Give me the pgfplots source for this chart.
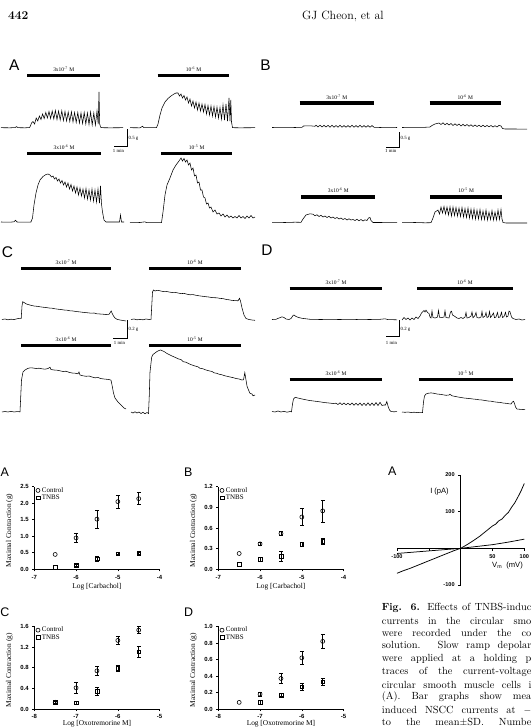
\documentclass[border=0pt]{standalone}
\usepackage{fontspec}
\usepackage{pgfplots}
\pgfplotsset{compat=1.18}
\setsansfont{Liberation Sans}
\newfontfamily\timesf{Liberation Serif}

\newcommand{\drugfont}{\timesf\fontsize{5.5}{6}\selectfont}
\newcommand{\scalefont}{\timesf\fontsize{4.8}{5}\selectfont}
\newcommand{\bigletter}{\sffamily\fontsize{15.5}{16}\selectfont}
\newcommand{\smallletter}{\sffamily\fontsize{12.5}{13}\selectfont}
\newcommand{\ticklab}{\sffamily\bfseries\fontsize{6}{6}\selectfont}
\newcommand{\labfont}{\timesf\fontsize{7.4}{8}\selectfont}
\newcommand{\legfont}{\timesf\fontsize{7}{8}\selectfont}
\newcommand{\capfont}{\fontsize{10.4}{13}\selectfont}

\pgfplotsset{
  trace/.style={black, line width=0.55bp, mark=none},
  drug/.style={black, line width=3.6bp, mark=none, line cap=butt},
  scalebar/.style={black, line width=0.5bp, mark=none},
  dose/.style={
    scale only axis, width=125.3bp, height=82.5bp,
    axis lines=left, axis line style={-, line width=0.6bp},
    enlargelimits=false, clip=false,
    tick align=outside, major tick length=2.2bp,
    every tick/.style={black, line width=0.6bp},
    tick label style={font=\ticklab, black},
    /pgf/number format/assume math mode=true,
    yticklabel style={/pgf/number format/.cd, fixed, fixed zerofill, precision=1},
    xtick distance=1,
    xlabel style={font=\labfont, at={(axis description cs:0.5,-0.215)}, anchor=center},
    ylabel style={font=\labfont, at={(axis description cs:-0.2,0.47)}, anchor=center},
    legend style={draw=none, fill=none, at={(axis description cs:0.012,1.005)},
      anchor=north west, font=\legfont, inner sep=0pt,
      nodes={inner sep=0.7bp}, row sep=-0.3bp, column sep=1.2bp},
    legend cell align=left,
  },
  ctrl/.style={black, only marks, mark=o, mark size=2bp,
    mark options={line width=0.6bp, draw=black, fill=white, solid},
    legend image code/.code={\draw plot coordinates {(0bp,0bp)};}},
  tnbs/.style={black, only marks, mark=square, mark size=1.9bp,
    mark options={line width=0.6bp, draw=black, fill=white, solid},
    legend image code/.code={\draw plot coordinates {(0bp,0bp)};}},
  % mean +- SEM
  sem/.style={error bars/.cd, y dir=both, y explicit,
    error bar style={draw=black, line width=0.6bp},
    error mark options={rotate=90, mark size=1.9bp, line width=0.6bp, draw=black},
    /pgfplots/.cd},
}

\begin{document}
\begin{tikzpicture}[x=1bp,y=1bp]

% ---------- page frame: isometric tension traces, in page units (y downwards) ----------
\begin{axis}[name=page, at={(0bp,0bp)}, anchor=south west, scale only axis,
  width=532bp, height=727bp, xmin=0, xmax=532, ymin=0, ymax=727,
  y dir=reverse, hide axis, clip=false, enlargelimits=false]

% running head
\node[anchor=west, font=\bfseries\fontsize{12}{14}\selectfont, inner sep=0pt] at (axis cs:8,16) {442};
\node[anchor=west, font=\fontsize{12}{14}\selectfont, inner sep=0pt] at (axis cs:302,16) {GJ Cheon, et al};

% panel letters
\node[font=\bigletter] at (axis cs:14.2,64.7) {A};
\node[font=\bigletter] at (axis cs:265.5,64.7) {B};
\node[font=\bigletter] at (axis cs:7.5,251.7) {C};
\node[font=\bigletter] at (axis cs:267,250) {D};
\node[font=\smallletter] at (axis cs:4.8,472.7) {A};
\node[font=\smallletter] at (axis cs:188.3,472.7) {B};
\node[font=\smallletter] at (axis cs:4.8,612.2) {C};
\node[font=\smallletter] at (axis cs:188.5,612.2) {D};
\node[font=\smallletter] at (axis cs:392.3,471.7) {A};

% drug application bars
\addplot[drug] coordinates {(27.3,75.7) (100,75.7)};
\addplot[drug] coordinates {(157.7,75.7) (229.3,75.7)};
\addplot[drug] coordinates {(27.3,153.7) (101,153.7)};
\addplot[drug] coordinates {(161,153.7) (232.3,153.7)};
\addplot[drug] coordinates {(299.7,103.3) (373.7,103.3)};
\addplot[drug] coordinates {(429.7,103.3) (501,103.3)};
\addplot[drug] coordinates {(301.3,196.7) (375.3,196.7)};
\addplot[drug] coordinates {(430.3,196.7) (502,196.7)};
\addplot[drug] coordinates {(21,268.3) (111,268.3)};
\addplot[drug] coordinates {(149,268.3) (240.7,268.3)};
\addplot[drug] coordinates {(21,345.3) (111,345.3)};
\addplot[drug] coordinates {(149,345.3) (240.7,345.3)};
\addplot[drug] coordinates {(289.7,288.3) (382,288.3)};
\addplot[drug] coordinates {(417,288.3) (512.7,288.3)};
\addplot[drug] coordinates {(289.7,379.3) (382,379.3)};
\addplot[drug] coordinates {(418.7,379.3) (512.7,379.3)};

% concentrations
\node[font=\drugfont] at (axis cs:63.7,69) {3x10\textsuperscript{-7} M};
\node[font=\drugfont] at (axis cs:193.5,69) {10\textsuperscript{-6} M};
\node[font=\drugfont] at (axis cs:64,147.5) {3x10\textsuperscript{-6} M};
\node[font=\drugfont] at (axis cs:196.7,147.5) {10\textsuperscript{-5} M};
\node[font=\drugfont] at (axis cs:336.7,97.3) {3x10\textsuperscript{-7} M};
\node[font=\drugfont] at (axis cs:465.3,97.3) {10\textsuperscript{-6} M};
\node[font=\drugfont] at (axis cs:338.3,190.7) {3x10\textsuperscript{-6} M};
\node[font=\drugfont] at (axis cs:466.2,190.7) {10\textsuperscript{-5} M};
\node[font=\drugfont] at (axis cs:66,262.3) {3x10\textsuperscript{-7} M};
\node[font=\drugfont] at (axis cs:195,262.3) {10\textsuperscript{-6} M};
\node[font=\drugfont] at (axis cs:66,339.3) {3x10\textsuperscript{-6} M};
\node[font=\drugfont] at (axis cs:195,339.3) {10\textsuperscript{-5} M};
\node[font=\drugfont] at (axis cs:336,282.3) {3x10\textsuperscript{-7} M};
\node[font=\drugfont] at (axis cs:465,282.3) {10\textsuperscript{-6} M};
\node[font=\drugfont] at (axis cs:336,373.3) {3x10\textsuperscript{-6} M};
\node[font=\drugfont] at (axis cs:465.7,373.3) {10\textsuperscript{-5} M};

% scale bars
\addplot[scalebar] coordinates {(114,146.7) (127.3,146.7) (127.3,129)};
\node[font=\scalefont, anchor=west, inner sep=0.5bp] at (axis cs:128,138) {0.5 g};
\node[font=\scalefont, inner sep=0.5bp] at (axis cs:118.5,150.5) {1 min};
\addplot[scalebar] coordinates {(386,147.3) (399.3,147.3) (399.3,132)};
\node[font=\scalefont, anchor=west, inner sep=0.5bp] at (axis cs:400,138.5) {0.5 g};
\node[font=\scalefont, inner sep=0.5bp] at (axis cs:390.7,151) {1 min};
\addplot[scalebar] coordinates {(113.3,338.3) (127.3,338.3) (127.3,320)};
\node[font=\scalefont, anchor=west, inner sep=0.5bp] at (axis cs:128,329.3) {0.2 g};
\node[font=\scalefont, inner sep=0.5bp] at (axis cs:119.5,342.7) {1 min};
\addplot[scalebar] coordinates {(386,336.7) (399.3,336.7) (399.3,320)};
\node[font=\scalefont, anchor=west, inner sep=0.5bp] at (axis cs:400,329.3) {0.2 g};
\node[font=\scalefont, inner sep=0.5bp] at (axis cs:391.5,342.7) {1 min};

% A: carbachol
\addplot[trace] coordinates {(1,127.7) (10,127.8) (15,127.6) (16.5,126.6) (18,127.7) (25,127.8) (29.5,127.6) (30.5,125.8) (31.5,123) (33,121.5) (34.6,124) (36.2,118) (37.8,121) (39.4,116) (41,119.5) (42.6,114) (44.2,118.5) (45.8,112.5) (47.4,118) (49,111.5) (50.6,118.5) (52.2,111) (53.8,119) (55.4,110.5) (57,119.5) (58.6,111) (60.2,120) (61.8,110.8) (63.4,120.5) (65,111.5) (66.6,121) (68.2,112) (69.8,121.5) (71.4,111.8) (73,122) (74.6,112.5) (76.2,122.5) (77.8,112.5) (79.4,123) (81,113) (82.6,123.5) (84.2,112.5) (85.8,124) (87.4,113) (89,124.5) (90.6,112) (92.2,125) (93.8,113) (95.4,125) (97,111) (98.2,124) (99,92) (99.7,124) (100.5,127) (101.5,127.7) (110,127.8) (123,127.7)};
\addplot[trace] coordinates {(130,127.7) (140,127.8) (142.5,126.3) (144,127.7) (156.5,127.7) (158,124) (160,115) (162,108) (165,102) (168,98.5) (171,96) (174,94) (176,93) (178,93) (179.5,96) (181,94) (182.5,98) (184,95.5) (185.5,100) (187,97) (188.5,103) (190,99) (191.5,106) (193,101) (194.5,108) (196,102) (197.5,110) (199,103) (200.5,111) (202,104) (203.5,112) (205,104.5) (206.5,114) (208,105.5) (209.5,115) (211,106) (212.5,116) (214,106.5) (215.5,117) (217,107) (218.5,118) (220,107.5) (221.5,119) (223,105) (224.5,120) (226,104) (227.5,121) (229,98) (230,121) (230.8,100) (231.5,122) (232.5,127.7) (240,127.8) (255,127.7)};
\addplot[trace] coordinates {(1,222) (10,222.2) (14,221.8) (15.5,220.3) (17,222) (25,222.2) (31,222) (32.5,218) (34,205) (36,193) (38,185) (40,180) (43,176.5) (46,174.5) (48,174) (50,175) (51.5,177) (53,176) (54.5,179) (56,177.5) (57.5,181) (59,179) (60.5,183) (62,180.5) (63.5,185) (65,182) (66.5,187) (68,183) (69.5,189) (71,184.5) (72.5,191) (74,186) (75.5,193) (77,187) (78.5,195) (80,188) (81.5,196) (83,189) (84.5,198) (86,188.5) (87.5,199) (89,190) (90.5,200) (92,189) (93.5,201) (95,190) (96.5,202) (98,189) (99.5,203) (100.5,186) (101.5,204) (102.5,212) (104,220) (106,222) (119.5,222) (120.5,215) (121.5,222) (124,222)};
\addplot[trace] coordinates {(130,222.7) (140,222.5) (145,221.8) (146.5,222.7) (161.5,222.7) (163,212) (165,195) (167,185) (170,178) (173,170) (176,165) (179,161) (181,158) (182.5,161) (184,158.5) (185.5,162) (187,160) (188.5,165) (190,163) (191.5,170) (193,168) (194.5,176) (196,175) (197.5,183) (199,182) (200.5,190) (202,190) (203.5,197) (205,198) (206.5,204) (208,203) (209.5,208) (211,207) (213,212) (215,210) (217,214) (219,213) (221,216) (223,214) (225,217) (227,215) (229,217.5) (231,216) (233,218) (235,216.5) (237,218) (239,215.5) (241,218) (243,216.5) (245,218.5) (247,216) (249,218) (251,215.5) (253,218) (255,217)};

% B: carbachol, TNBS
\addplot[trace] coordinates {(272,127.5) (285,127.3) (295,127.5) (302,127.3) (303.5,126) (310,125.8) (315,126.3) (316,125.2) (318,127) (320,125.2) (322,127) (324,125.3) (326,127) (328,125.4) (330,127.2) (332,125.3) (334,127.2) (336,125.5) (338,127.2) (340,125.3) (342,127.3) (344,125.5) (346,127.3) (348,125.5) (350,127.3) (352,125.3) (354,127.3) (356,125.5) (358,127.3) (360,125.3) (362,127.3) (364,125.5) (366,127.3) (368,125.5) (370,127.3) (372,125.5) (374,127.3) (380,127.5) (390,127.3) (397,127.5)};
\addplot[trace] coordinates {(402,127.5) (415,127.3) (425,127.3) (430,127) (432,125.5) (435,124) (439,123) (441,124.5) (443,122.8) (445,124.8) (447,123.3) (449,125) (451,123.5) (453,125.5) (455,123.8) (457,125.5) (459,124) (461,126) (463,124.3) (465,126) (467,124.5) (469,126.2) (471,124.8) (473,126.5) (475,125) (477,126.5) (479,125.2) (481,126.7) (483,125.3) (485,126.7) (487,125.5) (489,126.8) (491,125.5) (493,127) (495,125.7) (497,127) (499,125.3) (501,126) (502.5,128.5) (505,129) (515,129) (527,129.2)};
\addplot[trace] coordinates {(272,222.3) (285,222.5) (295,222.2) (301,222.3) (303,219) (306,215) (310,213.8) (313,214.2) (315,215.8) (317,214.8) (319,216.5) (321,215.3) (323,217) (325,216) (327,217.5) (329,216.3) (331,218) (333,217) (335,218.5) (337,217.5) (339,219) (341,218) (343,219.5) (345,218.5) (347,220) (349,218.8) (351,220) (353,219.5) (355,220.5) (357,219.3) (359,220.8) (361,219.5) (363,221) (365,219.8) (367,220.5) (368.5,218) (370,217.5) (371,220.5) (373,222.5) (380,222.5) (397,222.7)};
\addplot[trace] coordinates {(402,222.7) (415,222.5) (425,222.8) (431,222.7) (433,218) (435,212) (438,210) (439.5,214) (441,207) (442.5,213) (444,206.5) (445.5,214) (447,207) (448.5,215) (450,206.8) (451.5,216) (453,207) (454.5,215.5) (456,207.5) (457.5,216) (459,208) (460.5,216.5) (462,207.5) (463.5,217) (465,208.5) (466.5,217.5) (468,208) (469.5,218) (471,209) (472.5,218.5) (474,209) (475.5,219) (477,210) (478.5,219) (480,209.5) (481.5,219.5) (483,211) (484.5,219.5) (486,210) (487.5,220) (489,212) (490.5,219.5) (492,210.5) (493.5,220) (495,212) (496.5,220) (498,210) (499.5,219.5) (501,209.5) (502,219) (503,222.5) (506,223) (527,223)};

% C: oxotremorine M
\addplot[trace] coordinates {(2,319.5) (5,319) (8,319.8) (11,319.2) (14,319.6) (17,318.8) (20,318.3) (21.2,318.5) (22,306) (22.7,301.7) (24,302.5) (26,303.8) (28,304.5) (31,305.3) (34,306) (37,306.3) (40,306.8) (43,307.2) (46,307.5) (49,308) (52,308.2) (55,308.8) (58,309.2) (61,309.5) (64,310) (67,310.2) (70,310.8) (73,311) (76,311.5) (79,311.8) (82,312.2) (85,312.5) (88,312.8) (91,313.2) (94,313) (97,313.8) (100,314) (103,314.2) (106,314.5) (109,314.3) (110.5,312) (111.2,311) (112,313) (113.5,316) (115,318) (117,319.3) (120,320) (123,320.5) (126,321)};
\addplot[trace] coordinates {(131,319.5) (134,319) (137,319.8) (140,319.4) (143,319.8) (146,319) (149,319.5) (151,319.3) (151.8,305) (152.5,292) (153.5,290) (155,291) (157,290.3) (160,290.8) (163,291.5) (166,291.3) (169,292) (172,292.5) (175,292.3) (178,293) (181,293.6) (184,293.4) (187,294.2) (190,294.8) (193,294.6) (196,295.3) (199,295.8) (202,296.2) (205,296.6) (208,296.9) (211,297.4) (214,297.7) (217,297.8) (220,298.4) (223,298.6) (226,299.4) (229,299.8) (232,300.4) (235,300.6) (238,300.8) (239.5,298.3) (240.5,301) (242,308) (244,315) (246,318.5) (249,319.5) (252,320) (255,320.3)};
\addplot[trace] coordinates {(2,412) (5,411.5) (8,412) (11,411.3) (14,412) (17,411.6) (20,411.8) (20.8,395) (21.5,380) (23,372) (25,370) (27.5,368.6) (30,367.8) (33,368) (36,368.5) (39,368.2) (42,368.8) (45,369.2) (48,368.5) (50,367.3) (51,369.5) (54,370) (57,370.2) (60,370.8) (63,371.5) (66,371.2) (69,372.3) (72,373) (75,373.2) (78,373.8) (79,372) (80,375) (83,375.8) (86,376.3) (89,376) (92,377) (95,377.8) (98,377.5) (101,378.6) (104,379) (107,379.3) (110,379.8) (111,380.2) (112,385) (113.5,393) (115,398) (118,402) (121,405) (124,408) (126,409)};
\addplot[trace] coordinates {(131,412) (133,413) (135,411.8) (137,413) (139,412) (141,413.5) (143,412.3) (145,413.8) (147,412.5) (148.5,413.5) (149.3,395) (150,372) (151.7,357) (153,354.5) (155,353) (157,351.5) (159,350.5) (160.7,350) (162,350.6) (164,351.5) (166.7,353.3) (169,354.5) (172,356) (175,357.3) (178,358.8) (181,359.6) (183.3,361.7) (186,362.2) (189,363.8) (192,365) (195,366) (198,366.8) (200,368.3) (203,368.8) (206,370) (209,370.8) (212,371.5) (214,372.8) (216.7,373.3) (219,374.2) (222,374.8) (225,375.8) (228,376.5) (231,377.2) (233.3,377.7) (236,378.5) (239,379) (242,380) (243.5,379.8) (244.8,372.7) (246,380) (247,386) (248.5,390) (250,393.3) (252,394) (253,395.8) (255,395)};

% D: oxotremorine M, TNBS
\addplot[trace] coordinates {(272,319.5) (276,319.3) (279,318) (282,316.8) (284,317.5) (286,319) (289,319.5) (291,318.5) (293,315.5) (294,315) (296,316.5) (299,317.6) (302,318.3) (306,318.8) (310,319.3) (320,319.5) (330,319.4) (340,319.5) (350,319.3) (360,319.6) (370,319.5) (380,319.3) (385,318.8) (388,319.6) (397,319.8)};
\addplot[trace] coordinates {(402,320) (404,317.5) (406,319.5) (408,318) (410,320) (412,318) (414,319.5) (416,317) (418,318.5) (420,316) (421.5,313) (423,311.5) (424,310.5) (425,312) (426,310.2) (427.5,312.5) (429,313.5) (430,317) (431,318) (432,311) (433,317.5) (435,318) (437.5,317) (438.5,310.5) (439.5,317.2) (442,317.5) (444,317) (445,310.8) (446,317.5) (449,318) (450.5,312) (451.5,311.2) (452.5,315) (455,316.5) (457,318) (459,318.5) (461,317.5) (463,318.5) (465,317) (466,312.5) (467,318) (469,317.5) (471,316) (472,312) (473,317.8) (475,315.5) (476,312.5) (477,317.5) (479,318) (481,317) (482,311.5) (483,317.5) (485,316) (486,312.5) (487,317.5) (488.5,316.8) (489.5,311.5) (490.5,317.5) (492,315.5) (493.5,313) (494.5,317.8) (496,317) (497.5,312.5) (498.5,317.5) (500,317) (501.5,312.3) (502.5,317.5) (504,316.5) (505.5,312.3) (506.5,317) (508,316) (509,311) (510,311.8) (511.5,317) (513,318.5) (516,319.5) (519,319) (522,320) (525,319.5)};
\addplot[trace] coordinates {(272,411.5) (275,412) (278,411) (281,412) (284,411.3) (287,412.2) (290,411.5) (291.5,411.8) (292.5,404) (293.5,399) (295.3,397.3) (297,397.8) (300,398.5) (303,399.2) (306,399.8) (309,400.4) (312,400.8) (315,401.2) (318,401.6) (321,402) (324,402.5) (327,402.8) (330,403.1) (333,403.5) (336,403.2) (338,404.5) (340,402.8) (342,404.6) (344,403) (346,404.8) (348,403.2) (350,405) (352,403) (354,405.2) (356,403.3) (358,405.2) (360,403) (362,405.5) (364,403.2) (366,405.5) (368,402.8) (370,405.5) (372,403) (374,405.5) (376,402.5) (378,405.6) (380,402.3) (382,405.5) (384,405) (385.5,405) (386.8,401.5) (388,406) (389.5,410) (391,411.5) (394,411.8) (397,411.6)};
\addplot[trace] coordinates {(402,412) (405,412.3) (408,412) (411,412.5) (414,412.2) (417,412.6) (420,412.3) (422.5,412.5) (423.5,402) (424.5,396) (426,394) (428,393.3) (431,392.9) (434,393.3) (437,394) (440,394.3) (443,394.8) (446,395.3) (449,395) (450,394.3) (452,395.8) (455,396.4) (458,397) (461,397.5) (464,398) (467,398.3) (470,398.6) (473,399) (476,399.3) (479,399.8) (482,400) (485,400.5) (488,401) (491,401.2) (494,401.8) (497,402.2) (500,402.4) (503,403) (506,403.3) (509,403.8) (511,404) (512,402.5) (513.5,401.2) (514.5,403.5) (515.5,407) (517,409) (520,409.3) (523,409.5) (525,409.3)};

% I-V labels
\node[font=\sffamily\fontsize{7.6}{8}\selectfont, inner sep=0pt] at (axis cs:439.5,492) {I (pA)};
\node[font=\sffamily\fontsize{7.6}{8}\selectfont, inner sep=0pt] at (axis cs:507.5,566) {V\textsubscript{m}\ \ (mV)};

% legend text of the figure
\node[anchor=west, inner sep=0pt, font=\capfont] at (axis cs:381.7,607.7) {\makebox[149.5bp][s]{\textbf{Fig. 6.} Effects of TNBS-induc}};
\node[anchor=west, inner sep=0pt, font=\capfont] at (axis cs:381.7,620.5) {\makebox[149.5bp][s]{currents in the circular smo}};
\node[anchor=west, inner sep=0pt, font=\capfont] at (axis cs:381.7,633.3) {\makebox[149.5bp][s]{were recorded under the co}};
\node[anchor=west, inner sep=0pt, font=\capfont] at (axis cs:381.7,646.1) {\makebox[149.5bp][s]{solution. Slow ramp depolar}};
\node[anchor=west, inner sep=0pt, font=\capfont] at (axis cs:381.7,658.9) {\makebox[149.5bp][s]{were applied at a holding p}};
\node[anchor=west, inner sep=0pt, font=\capfont] at (axis cs:381.7,671.7) {\makebox[149.5bp][s]{traces of the current-voltage}};
\node[anchor=west, inner sep=0pt, font=\capfont] at (axis cs:381.7,684.5) {\makebox[149.5bp][s]{circular smooth muscle cells i}};
\node[anchor=west, inner sep=0pt, font=\capfont] at (axis cs:381.7,697.3) {\makebox[149.5bp][s]{(A). Bar graphs show mea}};
\node[anchor=west, inner sep=0pt, font=\capfont] at (axis cs:381.7,710.1) {\makebox[149.5bp][s]{induced NSCC currents at $-$}};
\node[anchor=west, inner sep=0pt, font=\capfont] at (axis cs:381.7,721.8) {\makebox[149.5bp][s]{to the mean$\pm$SD. Numbe}};
\end{axis}

% ---------- A: carbachol, control vs TNBS ----------
\begin{axis}[dose, at={(34.3bp,157.7bp)}, anchor=south west,
  xmin=-7, xmax=-4, ymin=0, ymax=2.5, ytick={0,0.5,1,1.5,2,2.5},
  xlabel={Log [Carbachol]}, ylabel={Maximal Contraction (g)}]
\addplot[ctrl] coordinates {(-6.5,0.45)};
\addplot[ctrl, forget plot, sem] coordinates {(-6,0.95) +- (0,0.13) (-5.5,1.52) +- (0,0.28) (-5,2.05) +- (0,0.19) (-4.5,2.14) +- (0,0.18)};
\addplot[tnbs] coordinates {(-6.5,0.07)};
\addplot[tnbs, forget plot, sem] coordinates {(-6,0.12) +- (0,0.03) (-5.5,0.32) +- (0,0.07) (-5,0.47) +- (0,0.03) (-4.5,0.48) +- (0,0.03)};
\legend{Control,TNBS}
\end{axis}

% ---------- B ----------
\begin{axis}[dose, at={(218.3bp,157.7bp)}, anchor=south west,
  xmin=-7, xmax=-4, ymin=0, ymax=1.2, ytick={0,0.3,0.6,0.9,1.2},
  xlabel={Log [Carbachol]}, ylabel={Maximal Contraction (g)}]
\addplot[ctrl] coordinates {(-6.5,0.23)};
\addplot[ctrl, forget plot, sem] coordinates {(-6,0.37) +- (0,0.02) (-5.5,0.52) +- (0,0.03) (-5,0.76) +- (0,0.12) (-4.5,0.85) +- (0,0.16)};
\addplot[tnbs] coordinates {(-6.5,0.07)};
\addplot[tnbs, forget plot, sem] coordinates {(-6,0.14) +- (0,0.03) (-5.5,0.19) +- (0,0.07) (-5,0.36) +- (0,0.03) (-4.5,0.41) +- (0,0.04)};
\legend{Control,TNBS}
\end{axis}

% ---------- C: oxotremorine M ----------
\begin{axis}[dose, at={(34.3bp,18bp)}, anchor=south west,
  xmin=-8, xmax=-5, ymin=0, ymax=1.6, ytick={0,0.4,0.8,1.2,1.6},
  xlabel={Log [Oxotremorine M]}, ylabel={Maximal Contraction (g)},
  xlabel style={at={(axis description cs:0.5,-0.175)}}]
\addplot[ctrl] coordinates {(-7.5,0.13)};
\addplot[ctrl, forget plot, sem] coordinates {(-7,0.41) +- (0,0.1) (-6.5,0.74) +- (0,0.09) (-6,1.33) +- (0,0.08) (-5.5,1.53) +- (0,0.07)};
\addplot[tnbs, sem] coordinates {(-7.5,0.13) +- (0,0.02) (-7,0.12) +- (0,0.02) (-6.5,0.35) +- (0,0.08) (-6,0.79) +- (0,0.05) (-5.5,1.11) +- (0,0.1)};
\legend{Control,TNBS}
\end{axis}

% ---------- D ----------
\begin{axis}[dose, at={(218.3bp,18bp)}, anchor=south west,
  xmin=-8, xmax=-5, ymin=0, ymax=1.0, ytick={0,0.2,0.4,0.6,0.8,1.0},
  xlabel={Log [Oxotremorine M]}, ylabel={Maximal Contraction (g)},
  xlabel style={at={(axis description cs:0.5,-0.175)}}]
\addplot[ctrl] coordinates {(-7.5,0.08)};
\addplot[ctrl, forget plot, sem] coordinates {(-7,0.18) +- (0,0.02) (-6.5,0.37) +- (0,0.057) (-6,0.62) +- (0,0.075) (-5.5,0.82) +- (0,0.085)};
\addplot[tnbs, sem] coordinates {(-7,0.08) +- (0,0.02) (-6.5,0.17) +- (0,0.02) (-6,0.27) +- (0,0.04) (-5.5,0.33) +- (0,0.04)};
\legend{Control,TNBS}
\end{axis}

% ---------- current-voltage relation ----------
\begin{axis}[at={(397bp,142bp)}, anchor=south west, scale only axis,
  width=127.3bp, height=110bp, xmin=-100, xmax=100, ymin=-100, ymax=200,
  axis lines=middle, axis line style={-, line width=0.7bp}, enlargelimits=false,
  clip=false, xtick={-100,-50,50,100}, xticklabels={-100,,50,100},
  ytick={-100,100,200}, tick align=outside, major tick length=2.5bp,
  every tick/.style={black, line width=0.6bp},
  tick label style={font=\sffamily\bfseries\fontsize{5.6}{6}\selectfont},
  /pgf/number format/assume math mode=true]
\addplot[black, line width=0.75bp, mark=none] coordinates {(-100,-68) (-90,-61) (-80,-55) (-70,-48) (-60,-41) (-50,-34) (-40,-27) (-30,-20) (-20,-13) (-10,-6) (0,0) (10,10) (20,21) (30,33) (40,47) (50,61) (55,66) (60,75) (65,80) (70,90) (75,98) (80,112) (85,124) (90,140) (95,157) (100,177)};
\addplot[black, line width=0.75bp, mark=none] coordinates {(-100,-14) (-75,-10.5) (-50,-7) (-25,-3.5) (0,0) (25,5) (50,10) (75,17) (100,25)};
\end{axis}

\pgfresetboundingbox
\useasboundingbox (0bp,0bp) rectangle (532bp,727bp);
\end{tikzpicture}
\end{document}
